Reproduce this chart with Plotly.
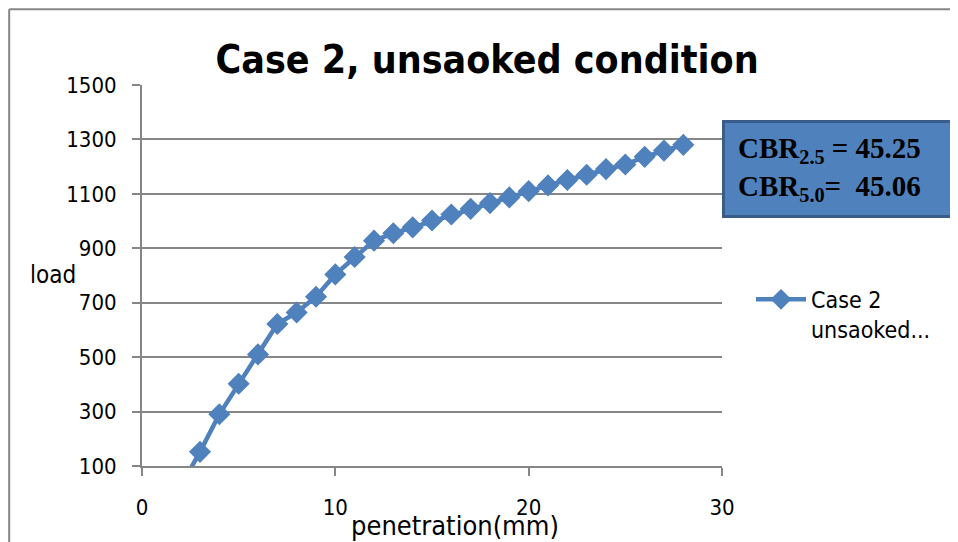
import plotly.graph_objects as go

# Data
penetration = [2, 3, 4, 5, 6, 7, 8, 9, 10, 11, 12, 13, 14, 15, 16, 17, 18, 19,
               20, 21, 22, 23, 24, 25, 26, 27, 28]
load = [25, 152, 290, 402, 510, 622, 664, 722, 804, 868, 928, 955, 977, 1002,
        1024, 1045, 1066, 1087, 1110, 1131, 1151, 1170, 1191, 1208, 1236, 1259, 1280]
y_ticks = [100, 300, 500, 700, 900, 1100, 1300, 1500]
x_ticks = [0, 10, 20, 30]

BLUE = '#4F81BD'
GRID = '#868686'
NARROW = "DejaVu Sans Condensed, Liberation Sans Narrow, Arial Narrow, sans-serif"

fig = go.Figure()

fig.add_trace(
    go.Scatter(
        x=penetration,
        y=load,
        mode='lines+markers',
        name="Case 2<br>unsaoked...",
        line=dict(color=BLUE, width=4.5),
        marker=dict(symbol='diamond', size=17, color=BLUE),
        cliponaxis=True
    )
)

# page body has an 8px margin, so the figure is offset by 8px
fig.update_layout(
    width=950,
    height=534,
    margin=dict(l=134, r=236, t=77, b=76),
    plot_bgcolor='white',
    paper_bgcolor='white',
    font=dict(family=NARROW, size=20, color='black'),
    title=dict(
        text="<b>Case 2, unsaoked condition</b>",
        font=dict(family=NARROW, size=39, color='black'),
        xref='paper', x=0.595, xanchor='center',
        yref='container', y=0.904, yanchor='middle'
    ),
    showlegend=True,
    legend=dict(
        x=1.05, xanchor='left',
        y=0.398, yanchor='middle',
        valign='top',
        font=dict(family=NARROW, size=23, color='black'),
        itemwidth=50,
        bgcolor='rgba(0,0,0,0)'
    )
)

fig.update_xaxes(
    range=[0, 30],
    tickvals=x_ticks,
    showgrid=False,
    zeroline=False,
    showline=True,
    linecolor=GRID,
    linewidth=2,
    ticks='outside',
    ticklen=8,
    tickwidth=2,
    tickcolor=GRID,
    ticklabelstandoff=13,
    tickfont=dict(family=NARROW, size=22, color='black')
)

fig.update_yaxes(
    range=[100, 1500],
    tickvals=y_ticks,
    showgrid=True,
    gridcolor=GRID,
    gridwidth=2,
    zeroline=False,
    showline=True,
    linecolor=GRID,
    linewidth=2,
    ticks='outside',
    ticklen=8,
    tickwidth=2,
    tickcolor=GRID,
    ticklabelstandoff=11,
    tickfont=dict(family=NARROW, size=22, color='black')
)

# axis titles placed like the original
fig.add_annotation(
    text="load", xref='paper', yref='paper',
    x=-0.153, y=0.501, xanchor='center', yanchor='middle',
    showarrow=False, font=dict(family=NARROW, size=24, color='black')
)
fig.add_annotation(
    text="penetration(mm)", xref='paper', yref='paper',
    x=0.54, y=-0.155, xanchor='center', yanchor='middle',
    showarrow=False, font=dict(family=NARROW, size=27, color='black')
)

# CBR text box
fig.add_annotation(
    text="<b>CBR<sub>2.5</sub> = 45.25</b><br><b>CBR<sub>5.0</sub>=  45.06</b>",
    xref='paper', yref='paper',
    x=1.0, y=0.908, xanchor='left', yanchor='top',
    showarrow=False, align='left',
    font=dict(family="Liberation Serif, Times New Roman, serif", size=29, color='black'),
    bgcolor=BLUE, bordercolor='#385D8A', borderwidth=3,
    borderpad=13, width=202, height=66
)

# outer chart border (only left and top edges are in view)
fig.add_shape(
    type='line', xref='paper', yref='paper',
    x0=-0.229, x1=-0.229, y0=-0.4, y1=1.199,
    line=dict(color=GRID, width=2)
)
fig.add_shape(
    type='line', xref='paper', yref='paper',
    x0=-0.229, x1=1.4, y0=1.199, y1=1.199,
    line=dict(color=GRID, width=2)
)

fig.write_html("out.html")
